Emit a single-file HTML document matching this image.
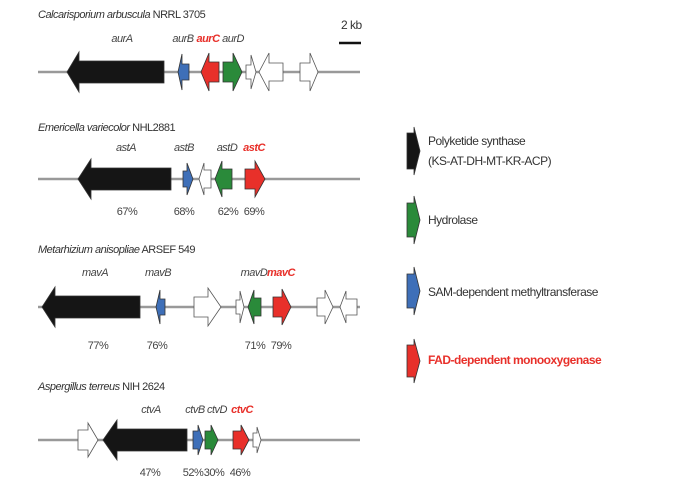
<!DOCTYPE html>
<html><head><meta charset="utf-8"><style>
html,body{margin:0;padding:0;background:#fff;}
svg{display:block;font-family:"Liberation Sans",sans-serif;}
text{letter-spacing:-0.5px;}
.t{font-size:11px;fill:#333;}
.i{font-style:italic;}
.l{font-size:11px;fill:#444;font-style:italic;text-anchor:middle;}
.p{font-size:11px;fill:#444;text-anchor:middle;}
.r{fill:#e8302a;}
</style></head><body>
<svg id="s" width="700" height="490" viewBox="0 0 700 490" xmlns="http://www.w3.org/2000/svg">
<g stroke="#999" stroke-width="2.5">
<line x1="38" y1="72" x2="360" y2="72"/>
<line x1="38" y1="179" x2="360" y2="179"/>
<line x1="38" y1="307" x2="360" y2="307"/>
<line x1="38" y1="440" x2="360" y2="440"/>
</g>
<line x1="339" y1="43" x2="361" y2="43" stroke="#111" stroke-width="2.5"/>
<text x="341" y="29" class="t" style="font-size:12px">2 kb</text>
<g id="arrows"></g>
<text x="38" y="18" class="t"><tspan class="i">Calcarisporium arbuscula</tspan> NRRL 3705</text>
<text x="122" y="42" class="l">aurA</text><text x="183" y="42" class="l">aurB</text><text x="208" y="42" class="l r" style="font-weight:bold">aurC</text><text x="233" y="42" class="l">aurD</text>
<text x="38" y="131" class="t"><tspan class="i">Emericella variecolor</tspan> NHL2881</text>
<text x="126" y="151" class="l">astA</text><text x="184" y="151" class="l">astB</text><text x="227" y="151" class="l">astD</text><text x="254" y="151" class="l r" style="font-weight:bold">astC</text>
<text x="127" y="215" class="p">67%</text><text x="184" y="215" class="p">68%</text><text x="228" y="215" class="p">62%</text><text x="254" y="215" class="p">69%</text>
<text x="38" y="253" class="t"><tspan class="i">Metarhizium anisopliae</tspan> ARSEF 549</text>
<text x="95" y="276" class="l">mavA</text><text x="158" y="276" class="l">mavB</text><text x="254" y="276" class="l">mavD</text><text x="281" y="276" class="l r" style="font-weight:bold">mavC</text>
<text x="98" y="349" class="p">77%</text><text x="157" y="349" class="p">76%</text><text x="255" y="349" class="p">71%</text><text x="281" y="349" class="p">79%</text>
<text x="38" y="390" class="t"><tspan class="i">Aspergillus terreus</tspan> NIH 2624</text>
<text x="151" y="413" class="l">ctvA</text><text x="195" y="413" class="l">ctvB</text><text x="217" y="413" class="l">ctvD</text><text x="242" y="413" class="l r" style="font-weight:bold">ctvC</text>
<text x="150" y="476" class="p">47%</text><text x="193" y="476" class="p">52%</text><text x="214" y="476" class="p">30%</text><text x="240" y="476" class="p">46%</text>
<text x="428" y="145" class="t" style="font-size:12px">Polyketide synthase</text>
<text x="428" y="165" class="t" style="font-size:12px">(KS-AT-DH-MT-KR-ACP)</text>
<text x="428" y="224" class="t" style="font-size:12px">Hydrolase</text>
<text x="428" y="296" class="t" style="font-size:12px">SAM-dependent methyltransferase</text>
<text x="428" y="364" class="t" style="font-size:12px;fill:#e8302a;font-weight:bold">FAD-dependent monooxygenase</text>
</svg>
<script>
var B="#151515",G="#2a8a3a",U="#3e6fb8",R="#e8302a",W="#fff";
var g=document.getElementById("arrows");
function a(x1,x2,dir,hb,cy,bh,hh,f){
 var p;
 if(dir>0){p=[[x1,cy-bh],[hb,cy-bh],[hb,cy-hh],[x2,cy],[hb,cy+hh],[hb,cy+bh],[x1,cy+bh]];}
 else{p=[[x2,cy-bh],[hb,cy-bh],[hb,cy-hh],[x1,cy],[hb,cy+hh],[hb,cy+bh],[x2,cy+bh]];}
 var e=document.createElementNS("http://www.w3.org/2000/svg","polygon");
 e.setAttribute("points",p.map(function(q){return q.join(",")}).join(" "));
 e.setAttribute("fill",f);e.setAttribute("stroke",f==W?"#555":"#333");e.setAttribute("stroke-width","0.8");
 g.appendChild(e);
}
// row1 y72
a(67,164,-1,79,72,11,20,B);
a(178,189,-1,182,72,8,18,U);
a(201,219,-1,209,72,10,19,R);
a(223,242,1,233,72,10,19,G);
a(246,256,1,251,72,7,17,W);
a(259,283,-1,269,72,9,19,W);
a(300,318,1,310,72,9,19,W);
// row2 y179
a(78,171,-1,91,179,11,20,B);
a(183,193,1,187,179,8,16,U);
a(199,211,-1,204,179,9,16,W);
a(215,232,-1,222,179,10,18,G);
a(245,265,1,255,179,10,18,R);
// row3 y307
a(42,140,-1,55,307,11,20,B);
a(156,165,-1,160,307,8,17,U);
a(194,221,1,208,307,10,19,W);
a(236,244,1,240,307,7,16,W);
a(248,261,-1,254,307,9,17,G);
a(273,291,1,282,307,10,18,R);
a(317,333,1,325,307,9,17,W);
a(340,357,-1,346,307,8,16,W);
// row4 y440
a(78,98,1,88,440,10,17,W);
a(103,187,-1,117,440,11,20,B);
a(193,203,1,198,440,9,15,U);
a(205,218,1,211,440,9,15,G);
a(233,249,1,241,440,9,15,R);
a(253,261,1,257,440,7,13,W);
// legend
a(407,420,1,414,151,18,24,B);
a(407,420,1,414,220,17,24,G);
a(407,420,1,414,291,17,24,U);
a(407,420,1,414,361,16,22,R);
</script>
</body></html>
